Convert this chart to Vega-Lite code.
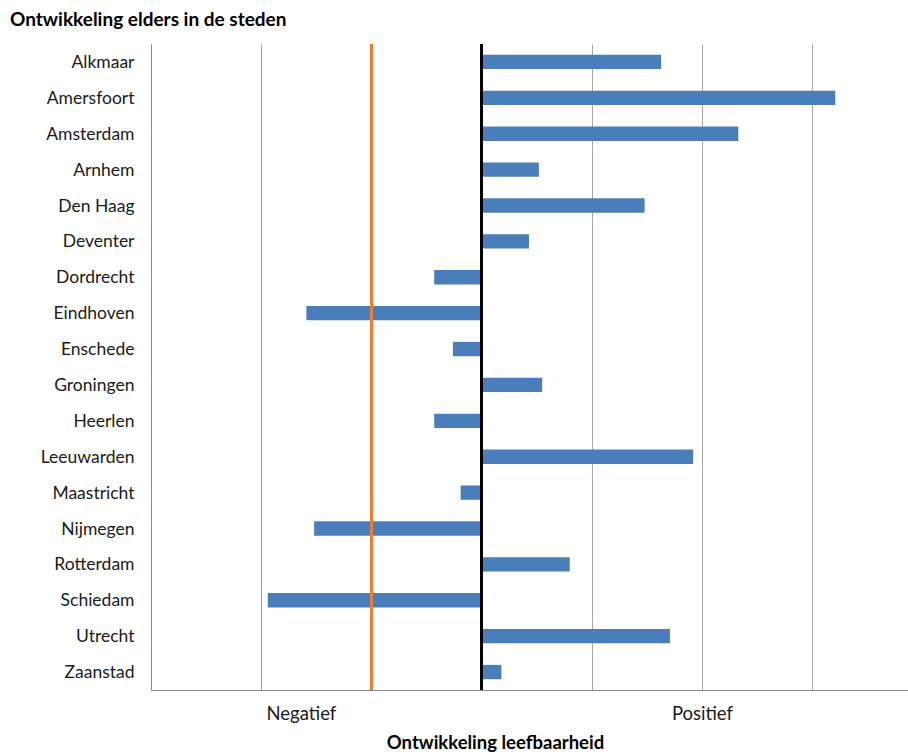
{
  "$schema": "https://vega.github.io/schema/vega-lite/v6.json",
  "autosize": "none",
  "width": 757,
  "height": 646,
  "padding": {"left": 151, "top": 44, "right": 0, "bottom": 66},
  "background": "white",
  "title": {
    "text": "Ontwikkeling elders in de steden",
    "anchor": "start",
    "frame": "group",
    "dx": -141,
    "offset": 13,
    "font": "Lato",
    "fontSize": 19,
    "fontWeight": "bold",
    "color": "#000000"
  },
  "config": {
    "view": {"stroke": null},
    "font": "Lato"
  },
  "data": {
    "values": [
      {"stad": "Alkmaar", "waarde": 1.63},
      {"stad": "Amersfoort", "waarde": 3.21},
      {"stad": "Amsterdam", "waarde": 2.33},
      {"stad": "Arnhem", "waarde": 0.52},
      {"stad": "Den Haag", "waarde": 1.48},
      {"stad": "Deventer", "waarde": 0.43},
      {"stad": "Dordrecht", "waarde": -0.43},
      {"stad": "Eindhoven", "waarde": -1.59},
      {"stad": "Enschede", "waarde": -0.26},
      {"stad": "Groningen", "waarde": 0.55},
      {"stad": "Heerlen", "waarde": -0.43},
      {"stad": "Leeuwarden", "waarde": 1.92},
      {"stad": "Maastricht", "waarde": -0.19},
      {"stad": "Nijmegen", "waarde": -1.52},
      {"stad": "Rotterdam", "waarde": 0.8},
      {"stad": "Schiedam", "waarde": -1.94},
      {"stad": "Utrecht", "waarde": 1.71},
      {"stad": "Zaanstad", "waarde": 0.18}
    ]
  },
  "layer": [
    {
      "mark": {"type": "bar", "color": "#4a7ebb"},
      "encoding": {
        "y": {
          "field": "stad",
          "type": "nominal",
          "sort": null,
          "scale": {"paddingInner": 0.6, "paddingOuter": 0.3},
          "axis": {
            "title": null,
            "ticks": false,
            "domainColor": "#8c8c8c",
            "labelFontSize": 17.5,
            "labelColor": "#1a1a1a",
            "labelPadding": 17,
            "labelOffset": 1,
            "labelFont": "Lato"
          }
        },
        "x": {
          "field": "waarde",
          "type": "quantitative",
          "scale": {"domain": [-3, 3.87], "nice": false, "zero": false},
          "axis": {
            "values": [-3, -2, -1.64, -1, 0, 1, 2, 3],
            "labelExpr": "datum.value == -1.64 ? 'Negatief' : (datum.value == 2 ? 'Positief' : '')",
            "grid": true,
            "gridColor": {"condition": {"test": "datum.value == -1.64", "value": "transparent"}, "value": "#a6a6a6"},
            "gridWidth": 1,
            "ticks": false,
            "domainColor": "#8c8c8c",
            "labelFontSize": 18.5,
            "labelColor": "#1a1a1a",
            "labelPadding": 14,
            "labelFont": "Lato",
            "title": "Ontwikkeling leefbaarheid",
            "titleFont": "Lato",
            "titleFontSize": 18.5,
            "titleFontWeight": "bold",
            "titleColor": "#000000",
            "titleX": 344,
            "titleY": 43,
            "titleBaseline": "top"
          }
        }
      }
    },
    {
      "mark": {"type": "rule", "color": "#ed7d31", "strokeWidth": 2.5},
      "encoding": {"x": {"datum": -1}}
    },
    {
      "mark": {"type": "rule", "color": "#000000", "strokeWidth": 2},
      "encoding": {"x": {"datum": 0}}
    }
  ]
}
